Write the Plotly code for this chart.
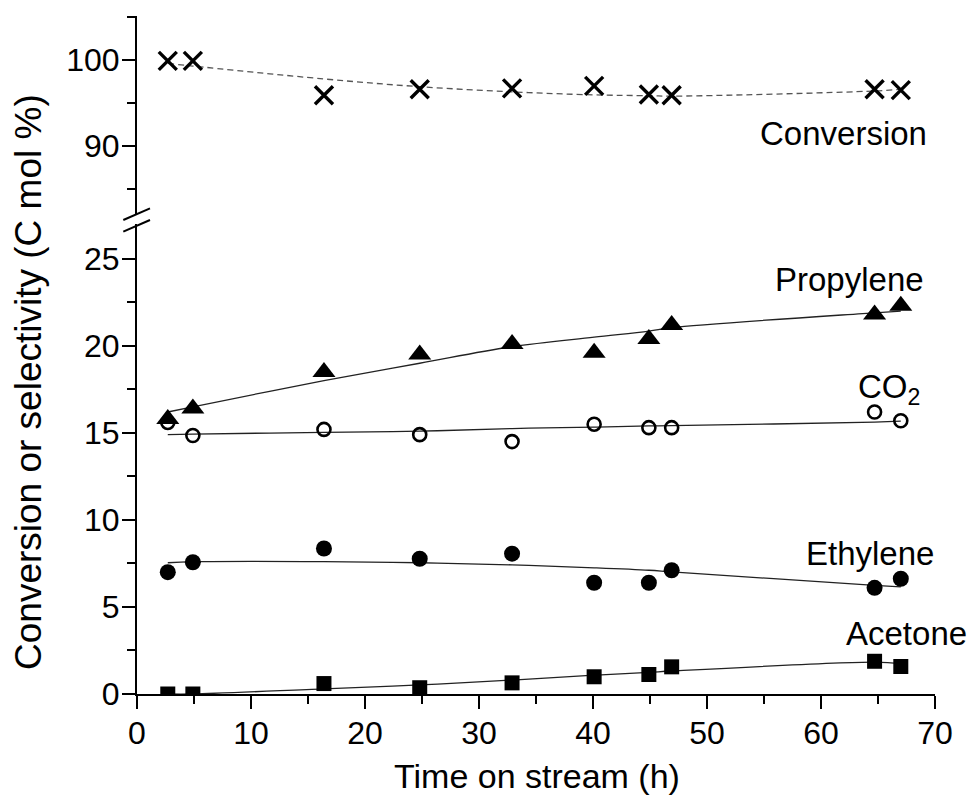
import plotly.graph_objects as go

# ---- data ----
time_h = [2.7, 4.9, 16.4, 24.8, 32.9, 40.1, 44.9, 46.9, 64.7, 67.0]

conversion = [99.9, 99.9, 95.9, 96.6, 96.7, 97.0, 96.0, 95.9, 96.6, 96.5]
conversion_fit = [99.6, 99.3, 97.8, 96.9, 96.3, 95.95, 95.85, 95.8, 96.4, 96.6]

propylene = [15.8, 16.4, 18.5, 19.5, 20.1, 19.6, 20.4, 21.2, 21.8, 22.3]
propylene_fit = [16.2, 16.5, 18.0, 19.0, 19.95, 20.5, 20.85, 21.05, 21.9, 22.0]

co2 = [15.6, 14.85, 15.2, 14.9, 14.5, 15.5, 15.3, 15.3, 16.2, 15.7]
co2_fit = [14.9, 14.93, 15.03, 15.1, 15.25, 15.33, 15.4, 15.42, 15.62, 15.68]

ethylene = [7.0, 7.57, 8.36, 7.77, 8.06, 6.39, 6.39, 7.11, 6.1, 6.62]
ethylene_fit = [7.54, 7.6, 7.61, 7.54, 7.42, 7.25, 7.11, 7.02, 6.24, 6.15]

acetone = [0.0, 0.0, 0.6, 0.36, 0.64, 0.99, 1.12, 1.56, 1.88, 1.58]
acetone_fit = [0.0, 0.0, 0.3, 0.52, 0.8, 1.08, 1.24, 1.32, 1.83, 1.75]

labels = ["Propylene", "CO<sub>2</sub>", "Ethylene", "Acetone", "Conversion"]

FONT = "Liberation Sans, Arial, sans-serif"
W, H = 974, 798
ML, MR, MT, MB = 137, 39, 16, 104
PW, PH = W - ML - MR, H - MT - MB


def px_x(p):
    return (p - ML) / PW


def px_y(p):
    return (H - MB - p) / PH


fig = go.Figure()

fit_line = dict(color="#222222", width=1.3, shape="spline", smoothing=1.0)

# fit curves (lower panel)
for fit in [propylene_fit, co2_fit, ethylene_fit, acetone_fit]:
    fig.add_trace(go.Scatter(x=time_h, y=fit, mode="lines", line=fit_line,
                             xaxis="x", yaxis="y", showlegend=False, hoverinfo="skip"))

# conversion fit (upper panel, dashed)
fig.add_trace(go.Scatter(x=time_h, y=conversion_fit, mode="lines",
                         line=dict(color="#555555", width=1.3, dash="6px,4px",
                                   shape="spline", smoothing=1.0),
                         xaxis="x", yaxis="y2", showlegend=False, hoverinfo="skip"))

# markers
fig.add_trace(go.Scatter(x=time_h, y=propylene, mode="markers", name="Propylene",
                         marker=dict(symbol="triangle-up", size=20, color="black",
                                     line=dict(width=0)),
                         xaxis="x", yaxis="y", showlegend=False))
fig.add_trace(go.Scatter(x=time_h, y=co2, mode="markers", name="CO2",
                         marker=dict(symbol="circle-open", size=13, color="black",
                                     line=dict(width=2.6, color="black")),
                         xaxis="x", yaxis="y", showlegend=False))
fig.add_trace(go.Scatter(x=time_h, y=ethylene, mode="markers", name="Ethylene",
                         marker=dict(symbol="circle", size=16, color="black",
                                     line=dict(width=0)),
                         xaxis="x", yaxis="y", showlegend=False))
fig.add_trace(go.Scatter(x=time_h, y=acetone, mode="markers", name="Acetone",
                         marker=dict(symbol="square", size=15, color="black",
                                     line=dict(width=0)),
                         xaxis="x", yaxis="y", showlegend=False))
fig.add_trace(go.Scatter(x=time_h, y=conversion, mode="markers", name="Conversion",
                         marker=dict(symbol="x-thin", size=18, color="black",
                                     line=dict(width=3.4, color="black")),
                         xaxis="x", yaxis="y2", showlegend=False))

axis_common = dict(showline=True, linecolor="black", linewidth=2, ticks="outside",
                   ticklen=13, tickwidth=2, tickcolor="black", showgrid=False,
                   zeroline=False, tickfont=dict(family=FONT, size=32, color="black"))

lower_top_px, upper_bot_px = 224, 215

fig.update_layout(
    width=W, height=H, autosize=False,
    margin=dict(l=ML, r=MR, t=MT, b=MB),
    paper_bgcolor="white", plot_bgcolor="white",
    font=dict(family=FONT, color="black"),
    xaxis=dict(range=[0, 70], dtick=10, tick0=0, anchor="y",
               minor=dict(ticks="outside", ticklen=8, tickwidth=2, dtick=5, tick0=0,
                          tickcolor="black", showgrid=False),
               ticklabelstandoff=-3, **axis_common),
    yaxis=dict(range=[0, 27.0], dtick=5, tick0=0, anchor="x",
               domain=[0, px_y(lower_top_px)],
               minor=dict(ticks="outside", ticklen=8, tickwidth=2, dtick=2.5, tick0=0,
                          tickcolor="black", showgrid=False),
               ticklabelstandoff=-4, **axis_common),
    yaxis2=dict(range=[81.98, 105.12], dtick=10, tick0=0, anchor="x",
                domain=[px_y(upper_bot_px), 1],
                minor=dict(ticks="outside", ticklen=8, tickwidth=2, dtick=5, tick0=0,
                           tickcolor="black", showgrid=False),
                ticklabelstandoff=-4, **axis_common),
)

# axis break marks
for (x0, y0, x1, y1) in [(123.3, 220.0, 150.0, 208.3), (123.3, 231.7, 150.0, 220.0)]:
    fig.add_shape(type="line", xref="paper", yref="paper",
                  x0=px_x(x0), y0=px_y(y0), x1=px_x(x1), y1=px_y(y1),
                  line=dict(color="black", width=2))

ann_font = dict(family=FONT, size=33, color="black")
ann = [
    (labels[0], 62.5, 23.8, "y"),
    (labels[1], 66.0, 17.5, "y"),
    (labels[2], 64.3, 8.1, "y"),
    (labels[3], 67.5, 3.5, "y"),
    (labels[4], 62.0, 91.4, "y2"),
]
for text, xv, yv, yr in ann:
    fig.add_annotation(text=text, x=xv, y=yv, xref="x", yref=yr, showarrow=False,
                       xanchor="center", yanchor="middle", font=ann_font)

# axis titles
fig.add_annotation(text="Time on stream (h)", x=px_x(537), y=px_y(776),
                   xref="paper", yref="paper", showarrow=False,
                   xanchor="center", yanchor="middle",
                   font=dict(family=FONT, size=34, color="black"))
fig.add_annotation(text="Conversion or selectivity (C mol %)", x=px_x(29), y=px_y(382),
                   xref="paper", yref="paper", showarrow=False, textangle=-90,
                   xanchor="center", yanchor="middle",
                   font=dict(family=FONT, size=37, color="black"))

fig.write_html("out.html")
